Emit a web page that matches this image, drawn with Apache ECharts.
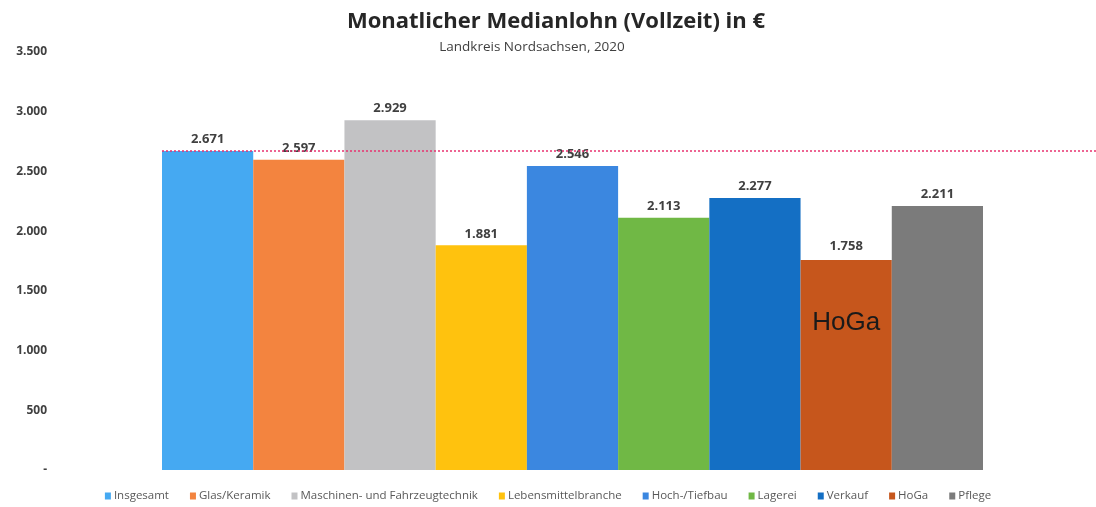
<!DOCTYPE html>
<html>
<head>
<meta charset="utf-8">
<script src="https://cdn.jsdelivr.net/npm/echarts@6/dist/echarts.min.js"></script>
<style>
  html, body { margin: 0; padding: 0; background: #fff; }
  #chart { width: 1096px; height: 507px; }
</style>
</head>
<body>
<div id="chart"></div>
<script>
// Branchen (eine Serie je Branche, nur eine Kategorie)
var branchen = ['Insgesamt', 'Glas/Keramik', 'Maschinen- und Fahrzeugtechnik', 'Lebensmittelbranche',
                'Hoch-/Tiefbau', 'Lagerei', 'Verkauf', 'HoGa', 'Pflege'];
var medianlohn = [2671, 2597, 2929, 1881, 2546, 2113, 2277, 1758, 2211];
var farben = ['#45a9f2', '#f3843f', '#c2c2c4', '#ffc20e', '#3b87e0', '#70b845', '#146fc4', '#c6561c', '#7b7b7b'];
var kategorie = ['2020'];
var referenzWert = 2671; // Insgesamt

function fmt(v) {
  if (v === 0) return '-';
  var s = String(Math.round(v));
  return s.replace(/\B(?=(\d{3})+(?!\d))/g, '.');
}

var chart = echarts.init(document.getElementById('chart'));

var linienStil = { color: '#e8326f', type: [2, 2], width: 1.5, opacity: 1 };

var series = branchen.map(function (name, i) {
  var s = {
    name: name,
    type: 'bar',
    barGap: '0%',
    barCategoryGap: '0%',
    itemStyle: { color: farben[i] },
    label: {
      show: true,
      position: 'top',
      distance: 5,
      color: '#404040',
      fontFamily: 'Open Sans',
      fontWeight: 'bold',
      fontSize: 13,
      formatter: function (p) { return fmt(p.value); }
    },
    data: [medianlohn[i]]
  };
  if (name === 'HoGa') {
    // Wert oberhalb, Branchenname im Balken
    s.label = {
      show: true,
      position: 'insideTop',
      distance: 0,
      offset: [0, -26],
      formatter: function (p) { return '{v|' + fmt(p.value) + '}\n{h|HoGa}'; },
      rich: {
        v: { color: '#404040', fontFamily: 'Open Sans', fontWeight: 'bold', fontSize: 13, lineHeight: 24 },
        h: { color: '#1a1a1a', fontFamily: 'Liberation Sans', fontSize: 26, lineHeight: 130 }
      }
    };
  }
  if (i === 0) {
    s.markLine = {
      silent: true,
      symbol: ['none', 'none'],
      label: { show: false },
      lineStyle: linienStil,
      emphasis: { disabled: true },
      data: [[
        { coord: [0, referenzWert], x: 162, lineStyle: linienStil },
        { coord: [0, referenzWert], x: '100%', lineStyle: linienStil }
      ]]
    };
  }
  return s;
});

var option = {
  backgroundColor: '#fff',
  animation: false,
  title: [{
    text: 'Monatlicher Medianlohn (Vollzeit) in €',
    left: 551,
    textAlign: 'center',
    top: 6,
    textStyle: { fontFamily: 'Open Sans', fontWeight: 'bold', fontSize: 22, color: '#262626' }
  }, {
    text: 'Landkreis Nordsachsen, 2020',
    left: 527,
    textAlign: 'center',
    top: 35,
    textStyle: { fontFamily: 'Open Sans', fontWeight: 'normal', fontSize: 13.5, color: '#404040' }
  }],
  legend: {
    bottom: 0,
    left: 'center',
    icon: 'rect',
    itemWidth: 6,
    itemHeight: 7,
    itemGap: 21,
    textStyle: { fontFamily: 'Open Sans', fontSize: 11.5, color: '#595959', padding: [0, 0, 0, -2] },
    data: branchen
  },
  grid: { left: 162, right: 113, top: 52, bottom: 37, containLabel: false },
  xAxis: {
    type: 'category',
    data: kategorie,
    axisLine: { show: false },
    axisTick: { show: false },
    axisLabel: { show: false }
  },
  yAxis: {
    type: 'value',
    min: 0,
    max: 3500,
    interval: 500,
    axisLine: { show: false },
    axisTick: { show: false },
    splitLine: { show: false },
    axisLabel: {
      margin: 115,
      color: '#404040',
      fontFamily: 'Open Sans',
      fontWeight: 'bold',
      fontSize: 12,
      formatter: fmt
    }
  },
  series: series
};

chart.setOption(option);
</script>
</body>
</html>
